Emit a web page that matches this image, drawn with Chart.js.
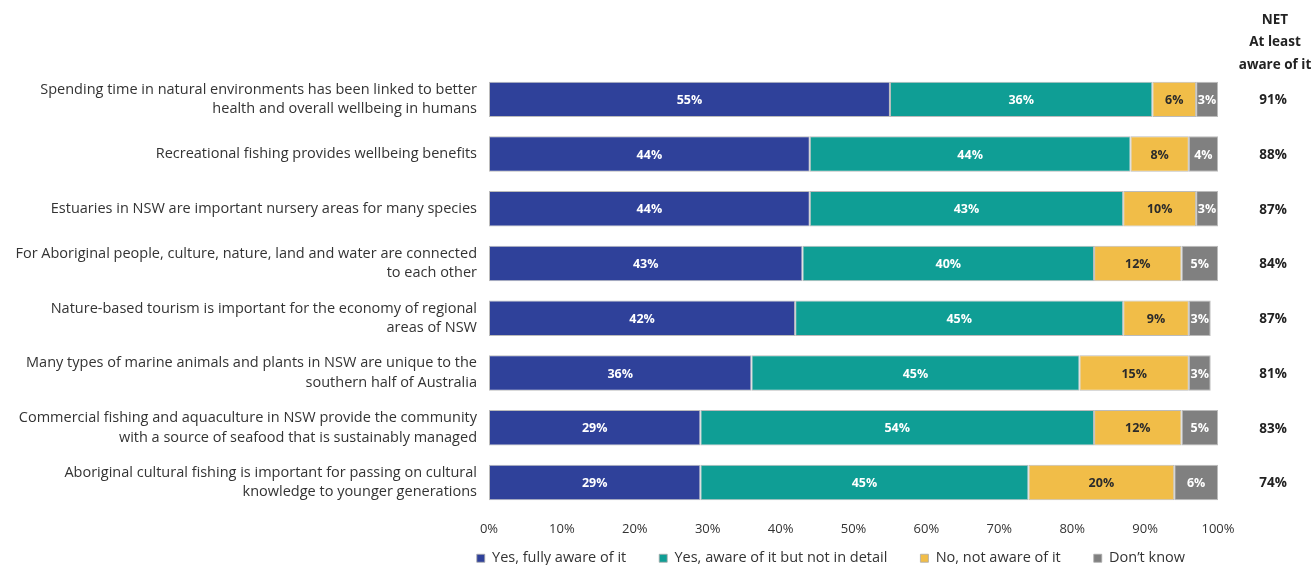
<!DOCTYPE html>
<html>
<head>
<meta charset="utf-8">
<script src="https://cdn.jsdelivr.net/npm/chart.js@4"></script>
<style>
  html, body { margin: 0; padding: 0; background: #fff; overflow: hidden; }
  #wrap { width: 1312px; height: 565px; }
</style>
</head>
<body>
<div id="wrap"><canvas id="grafico" width="1312" height="565"></canvas></div>
<script>
// Afirmações avaliadas
const afirmacoes = [
  ['Spending time in natural environments has been linked to better', 'health and overall wellbeing in humans'],
  'Recreational fishing provides wellbeing benefits',
  'Estuaries in NSW are important nursery areas for many species',
  ['For Aboriginal people, culture, nature, land and water are connected', 'to each other'],
  ['Nature-based tourism is important for the economy of regional', 'areas of NSW'],
  ['Many types of marine animals and plants in NSW are unique to the', 'southern half of Australia'],
  ['Commercial fishing and aquaculture in NSW provide the community', 'with a source of seafood that is sustainably managed'],
  ['Aboriginal cultural fishing is important for passing on cultural', 'knowledge to younger generations']
];

// Percentuais por resposta
const totalmenteCiente = [55, 44, 44, 43, 42, 36, 29, 29];
const cienteSemDetalhe = [36, 44, 43, 40, 45, 45, 54, 45];
const naoCiente = [6, 8, 10, 12, 9, 15, 12, 20];
const naoSabe = [3, 4, 3, 5, 3, 3, 5, 6];
const netCiente = [91, 88, 87, 84, 87, 81, 83, 74];

const tituloNet = ['NET', 'At least', 'aware of it'];

const fonte = '"Open Sans", sans-serif';

// Rótulos dentro das barras + coluna NET à direita
const rotulosPlugin = {
  id: 'rotulos',
  // a legenda tem padding grande (espaço entre itens); sobe a caixa dela
  // para o texto ficar logo abaixo dos ticks do eixo x
  afterLayout(chart) {
    const leg = chart.legend;
    if (!leg) return;
    const h = leg.height;
    leg.top = 518;
    leg.bottom = 518 + h;
  },
  afterDatasetsDraw(chart) {
    const ctx = chart.ctx;
    ctx.save();
    ctx.font = 'bold 12.5px ' + fonte;
    ctx.textAlign = 'center';
    ctx.textBaseline = 'middle';
    chart.data.datasets.forEach((ds, i) => {
      const meta = chart.getDatasetMeta(i);
      meta.data.forEach((bar, j) => {
        const centro = (bar.x + bar.base) / 2;
        ctx.fillStyle = i === 2 ? '#2b2b2b' : '#ffffff';
        ctx.fillText(ds.data[j] + '%', centro, bar.y + 1);
      });
    });

    const xNet = chart.chartArea.right + 55;
    ctx.fillStyle = '#222';
    ctx.font = 'bold 13.5px ' + fonte;
    netCiente.forEach((v, j) => {
      ctx.fillText(v + '%', xNet, chart.scales.y.getPixelForValue(j) + 1);
    });
    tituloNet.forEach((t, k) => {
      ctx.fillText(t, 1275, 20 + k * 22.5);
    });
    ctx.restore();
  }
};

const borda = 'rgba(170,170,170,0.8)';

new Chart(document.getElementById('grafico').getContext('2d'), {
  type: 'bar',
  data: {
    labels: afirmacoes,
    datasets: [
      { label: 'Yes, fully aware of it', data: totalmenteCiente, backgroundColor: '#2f419a' },
      { label: 'Yes, aware of it but not in detail', data: cienteSemDetalhe, backgroundColor: '#0f9e95' },
      { label: 'No, not aware of it', data: naoCiente, backgroundColor: '#f1bd48' },
      { label: 'Don\u2019t know', data: naoSabe, backgroundColor: '#808080' }
    ].map(d => Object.assign(d, {
      borderColor: borda,
      borderWidth: 1,
      borderSkipped: false,
      barPercentage: 0.72,
      categoryPercentage: 0.9
    }))
  },
  options: {
    indexAxis: 'y',
    responsive: false,
    animation: false,
    layout: { padding: { top: 72, right: 94, left: 8, bottom: -42 } },
    scales: {
      x: {
        stacked: true,
        min: 0,
        max: 100,
        grid: { display: false, drawTicks: false },
        border: { display: false },
        ticks: {
          stepSize: 10,
          padding: 12,
          color: '#333',
          font: { family: fonte, size: 13 },
          callback: v => v + '%'
        }
      },
      y: {
        stacked: true,
        grid: { display: false, drawTicks: false },
        border: { display: false },
        afterFit: scale => { scale.width = 481; },
        ticks: {
          padding: 12,
          color: '#333',
          font: { family: fonte, size: 14.5, lineHeight: 1.35 }
        }
      }
    },
    plugins: {
      legend: {
        position: 'bottom',
        align: 'end',
        labels: {
          boxWidth: 8,
          boxHeight: 8,
          padding: 33,
          color: '#333',
          font: { family: fonte, size: 14.5 }
        }
      },
      tooltip: { enabled: false }
    }
  },
  plugins: [rotulosPlugin]
});
</script>
</body>
</html>
